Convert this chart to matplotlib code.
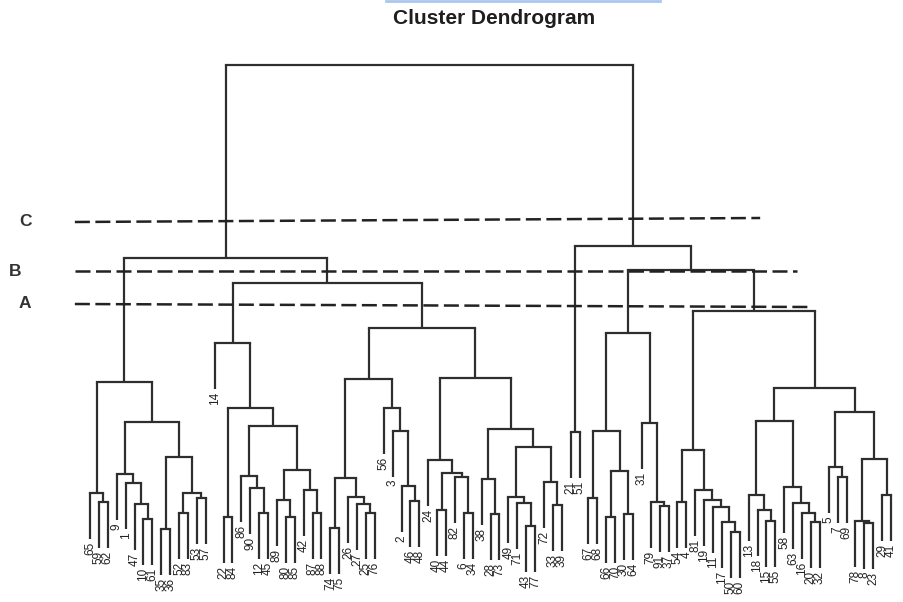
import matplotlib.pyplot as plt
from matplotlib.lines import Line2D

# hierarchical clustering
# each node is (left, right, merge height); leaves are observation labels
group_a = (('65', ('59', '62', 78), 87),
           (('9', ('1', ('47', ('10', '61', 61), 76), 97), 106),
            (('35', '36', 51), (('52', '83', 67), ('53', '57', 82), 87), 123), 158),
           198)
group_b = ('14',
           (('22', '84', 63),
            (('86', ('90', ('12', '45', 67), 92), 104),
             (('89', ('80', '85', 63), 80), ('42', ('87', '88', 67), 90), 110), 154),
            172),
           237)
group_c1 = ((('74', '75', 52), ('26', ('27', ('25', '76', 67), 76), 83), 102),
            ('56', ('3', ('2', ('46', '48', 79), 94), 149), 172),
            201)
group_c2 = (('24', (('40', '44', 70), ('82', ('6', '34', 67), 103), 107), 120),
            (('38', ('28', '73', 66), 101),
             (('49', ('71', ('43', '77', 54), 77), 83), ('72', ('33', '39', 75), 98), 133),
             151),
            202)
group_d = ('21', '51', 148)
group_e = ((('67', '68', 82), (('66', '70', 63), ('30', '64', 66), 109), 149),
           ('31', ('79', ('91', '37', 74), 78), 157),
           247)
group_f = ((('54', '4', 78),
            ('81', ('19', ('11', ('17', ('50', '60', 48), 58), 73), 80), 90), 130),
           ((('13', ('18', ('15', '55', 59), 70), 85),
             ('58', ('63', ('16', ('20', '32', 58), 67), 77), 93), 159),
            (('5', ('7', '69', 103), 113),
             (('78', ('8', '23', 57), 59), ('29', '41', 85), 121), 168),
            192),
           269)

left_half = (group_a, (group_b, (group_c1, group_c2, 252), 297), 322)
right_half = (group_d, (group_e, group_f, 310), 334)
tree = (left_half, right_half, 515)

hang = 46

# cut levels drawn as dashed lines (height at left end, at right end, last leaf position)
cut_names = ['C', 'B', 'A']
cut_left = [358, 309, 276]
cut_right = [362, 309, 273]
cut_stop = [75.3, 79.4, 80.9]

line_col = '#2e2e2e'

fig = plt.figure(figsize=(9.04, 6.02), dpi=100)
ax = fig.add_axes([0, 0, 1, 1])
ax.set_xlim(-90 / 8.9, 814 / 8.9)
ax.set_ylim(-22, 580)
ax.axis('off')

counter = [0]


def draw(node, parent_h):
    # returns x position of this node
    if isinstance(node, str):
        x = counter[0]
        counter[0] += 1
        bottom = parent_h - hang
        ax.plot([x, x], [parent_h, bottom], color=line_col, lw=1.6,
                solid_capstyle='butt')
        ax.text(x, bottom - 3, node, rotation=90, ha='center', va='top',
                fontsize=8.5, color='#222222', family='Liberation Sans')
        return x
    left, right, h = node
    xl = draw(left, h)
    xr = draw(right, h)
    ax.plot([xl, xr], [h, h], color=line_col, lw=1.6, solid_capstyle='projecting')
    xm = (xl + xr) / 2
    if parent_h is not None:
        ax.plot([xm, xm], [h, parent_h], color=line_col, lw=1.6,
                solid_capstyle='butt')
    return xm


draw(tree, None)

for name, yl, yr, xs in zip(cut_names, cut_left, cut_right, cut_stop):
    ax.plot([-1.7, xs], [yl, yr], color='#222222', lw=1.8,
            dashes=(6, 2.2))
    ax.text(-8.4 if name == 'B' else -7.3, yl, name, ha='center', va='center',
            fontsize=12.5, fontweight='bold', color='#333333',
            family='Liberation Sans')

fig.text(494 / 904, 1 - 18 / 602, 'Cluster Dendrogram', ha='center',
         va='center', fontsize=15, fontweight='bold', color='#1e1e1e',
         family='Liberation Sans')
fig.add_artist(Line2D([386 / 904, 660 / 904], [1 - 1 / 602, 1 - 1 / 602],
                      color='#a9c8ee', lw=2, transform=fig.transFigure))

fig.savefig('out.png', dpi=100)
